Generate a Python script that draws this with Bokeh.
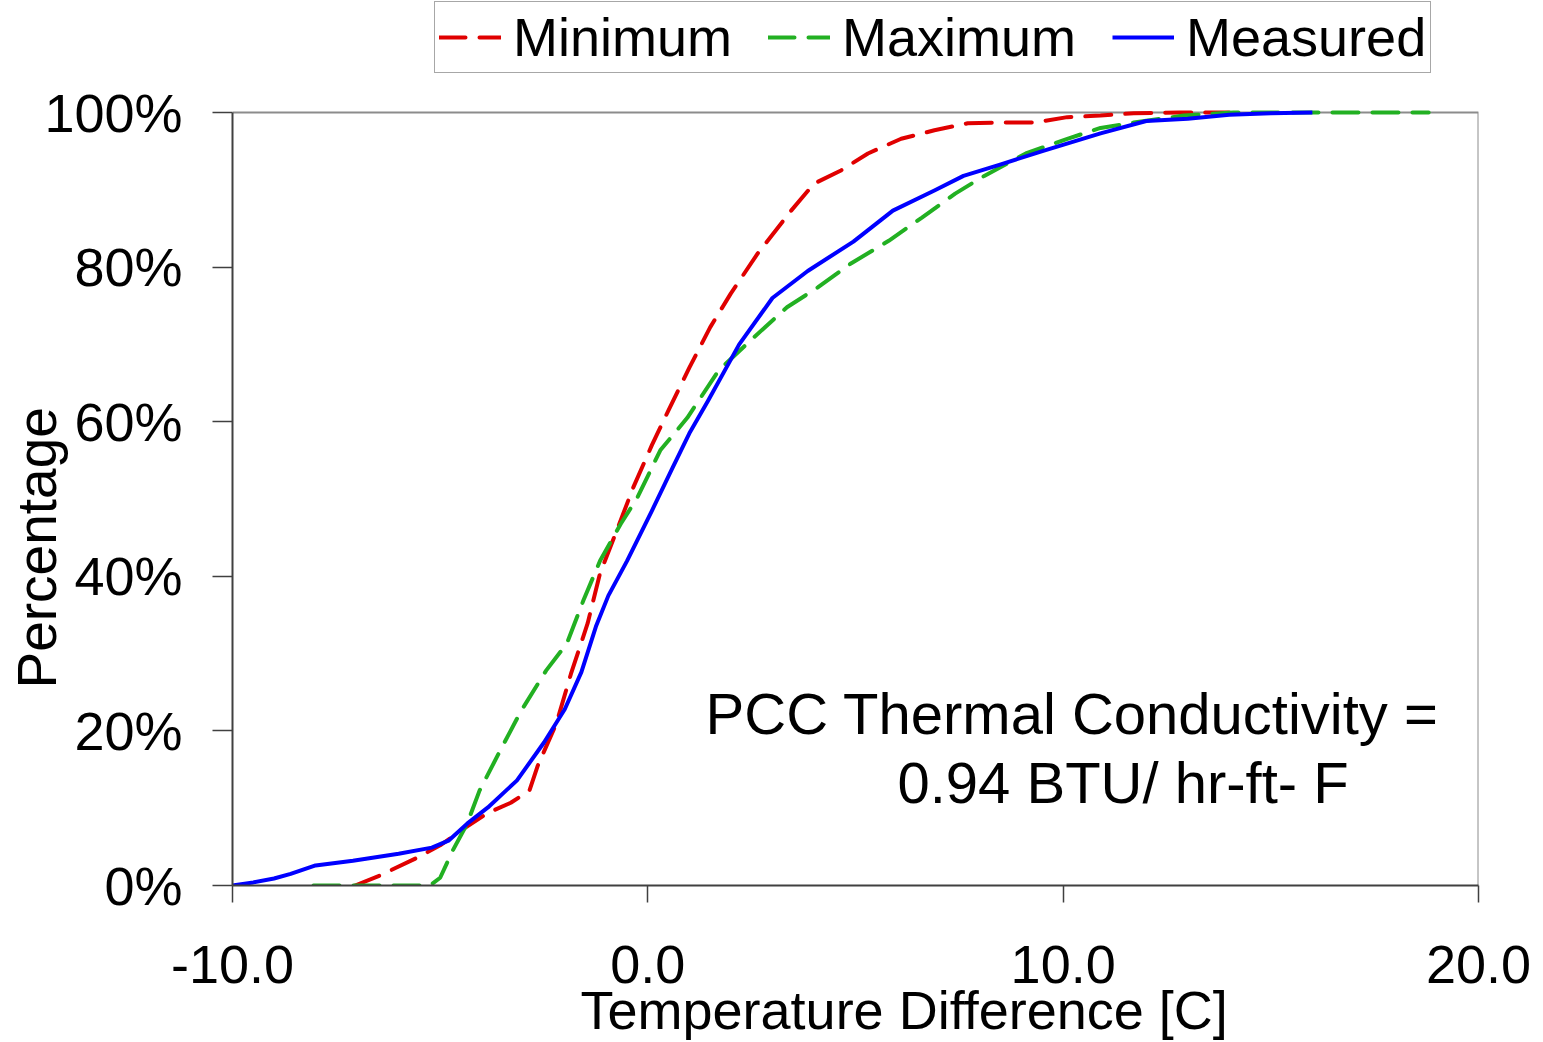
import math
from bokeh.plotting import figure
from bokeh.models import Range1d, FixedTicker, PrintfTickFormatter, Legend, LegendItem, Label, Title
from bokeh.embed import file_html
from bokeh.resources import INLINE

FONT = "Liberation Sans"

# ---- data ----
x_ticks = [-10, 0, 10, 20]
y_ticks = [0, 20, 40, 60, 80, 100]

min_x = [-7.05, -6.45, -5.55, -5.0, -4.5, -3.85, -3.3, -2.85, -2.65, -2.2, -1.85, -1.45,
         -1.15, -0.75, -0.35, 0.1, 0.5, 1.0, 1.5, 2.0, 2.65, 3.45, 4.0, 4.65, 5.3, 6.1,
         6.9, 7.7, 8.5, 9.3, 10.1, 10.9, 11.7, 12.8, 14.0]
min_y = [0, 1.3, 3.6, 5.2, 7.1, 9.4, 10.7, 12.3, 15.5, 21.0, 27.4, 33.9,
         40.4, 45.9, 51.5, 57.0, 61.5, 67.0, 72.2, 76.6, 81.8, 87.3, 90.8, 92.5, 94.7, 96.6,
         97.7, 98.6, 98.7, 98.7, 99.4, 99.6, 99.9, 100, 100]

max_x = [-8.05, -5.25, -5.0, -4.7, -4.35, -4.05, -3.55, -3.05, -2.45, -1.95, -1.55, -1.15,
         -0.65, -0.25, 0.3, 0.95, 1.7, 2.55, 3.35, 4.1, 4.9, 5.8, 6.6, 7.4, 8.1, 9.1,
         10.1, 10.9, 11.7, 12.9, 14.1, 18.8]
max_y = [0, 0, 1.0, 4.5, 8.0, 12.3, 17.5, 22.6, 27.8, 31.3, 36.9, 42.0,
         46.8, 50.2, 56.3, 60.5, 66.6, 70.9, 74.8, 77.4, 80.5, 83.4, 86.4, 89.5, 91.8, 94.7,
         96.6, 98.0, 98.7, 99.6, 100, 100]

meas_x = [-10, -9.5, -9.0, -8.6, -8.0, -7.1, -6.0, -5.2, -4.8, -4.35, -3.85, -3.15, -2.5,
          -2.0, -1.6, -1.25, -0.95, -0.5, 0.1, 0.6, 1.0, 1.45, 2.2, 3.0, 3.85, 4.95, 5.9,
          6.9, 7.6, 8.5, 9.5, 10.9, 12.0, 13.0, 14.0, 15.0, 16.0]
meas_y = [0, 0.4, 0.9, 1.5, 2.6, 3.2, 4.1, 4.9, 5.8, 8.0, 10.1, 13.6, 18.5,
          22.8, 27.6, 33.5, 37.5, 42.0, 48.5, 54.1, 58.5, 62.7, 70.0, 76.0, 79.5, 83.3, 87.3,
          89.9, 91.8, 93.3, 95.0, 97.3, 98.9, 99.2, 99.7, 99.9, 100]

series_names = ["Minimum", "Maximum", "Measured"]
x_title = "Temperature Difference [C]"
y_title = "Percentage"
note_line1 = "PCC Thermal Conductivity ="
note_line2 = "0.94 BTU/ hr-ft-  F"

# ---- layout: plot box is 1246 x 773 px; extra headroom above it holds the legend ----
X0, X1 = x_ticks[0], x_ticks[-1]
Y0, Y1 = y_ticks[0], y_ticks[-1]
BOX_H = 773
HEAD = 112
y_top = Y1 * (BOX_H + HEAD) / BOX_H

p = figure(frame_width=1246, frame_height=BOX_H + HEAD,
           x_range=Range1d(X0, X1), y_range=Range1d(Y0, y_top),
           output_backend="svg", toolbar_location=None,
           min_border_left=232, min_border_right=57,
           min_border_top=0, min_border_bottom=157)
p.grid.visible = False
p.outline_line_color = None
p.background_fill_color = "white"
p.border_fill_color = "white"

# gray top/right border of the plot box
p.line([X0, X1, X1], [Y1, Y1, Y0], line_color="#8c8c8c", line_width=2)

r_min = p.line(min_x, min_y, line_color="#E00000", line_width=4,
               line_dash="26 14", line_cap="round")
r_max = p.line(max_x, max_y, line_color="#22B022", line_width=4,
               line_dash="26 14", line_cap="round")
r_meas = p.line(meas_x, meas_y, line_color="#0000FF", line_width=4, line_join="round")

# axes
xa = p.xaxis[0]
xa.ticker = FixedTicker(ticks=x_ticks)
xa.formatter = PrintfTickFormatter(format="%.1f")
ya = p.yaxis[0]
ya.ticker = FixedTicker(ticks=y_ticks)
ya.formatter = PrintfTickFormatter(format="%d%%")
ya.bounds = (Y0, Y1)
for ax in (xa, ya):
    ax.major_label_text_font = FONT
    ax.major_label_text_font_size = "54px"
    ax.major_label_text_color = "black"
    ax.major_tick_in = 0
    ax.minor_tick_in = 0
    ax.minor_tick_out = 0
    ax.axis_line_color = "#404040"
    ax.axis_line_width = 2
    ax.major_tick_line_color = "#404040"
    ax.major_tick_line_width = 1.5
xa.major_tick_out = 17
xa.major_label_standoff = 43
ya.major_tick_out = 20
ya.major_label_standoff = 30

# axis titles
p.add_layout(Title(text=x_title, align="left", offset=348, standoff=-16,
                   text_font=FONT, text_font_size="54px", text_font_style="normal",
                   text_color="black"), "below")
p.add_layout(Title(text=y_title, align="left", offset=197, standoff=-52,
                   text_font=FONT, text_font_size="55px", text_font_style="normal",
                   text_color="black"), "left")

# annotation text
p.add_layout(Label(x=1.39, y=22.3, text=note_line1, text_align="left",
                   text_baseline="alphabetic", text_font=FONT, text_font_size="58px",
                   text_color="black"))
p.add_layout(Label(x=6.01, y=13.3, text=note_line2, text_align="left",
                   text_baseline="alphabetic", text_font=FONT, text_font_size="58px",
                   text_color="black"))

# legend (inside the headroom above the plot box)
legend = Legend(items=[LegendItem(label=series_names[0], renderers=[r_min]),
                       LegendItem(label=series_names[1], renderers=[r_max]),
                       LegendItem(label=series_names[2], renderers=[r_meas])],
                orientation="horizontal", location=(202, 812),
                label_text_font=FONT, label_text_font_size="54px", label_text_color="black",
                glyph_width=62, glyph_height=40, label_standoff=12, spacing=36,
                padding=4, margin=0,
                border_line_color="#505050", border_line_width=1.5,
                background_fill_color="white", background_fill_alpha=1)
p.add_layout(legend, "center")

open("out.html", "w").write(file_html(p, INLINE))
